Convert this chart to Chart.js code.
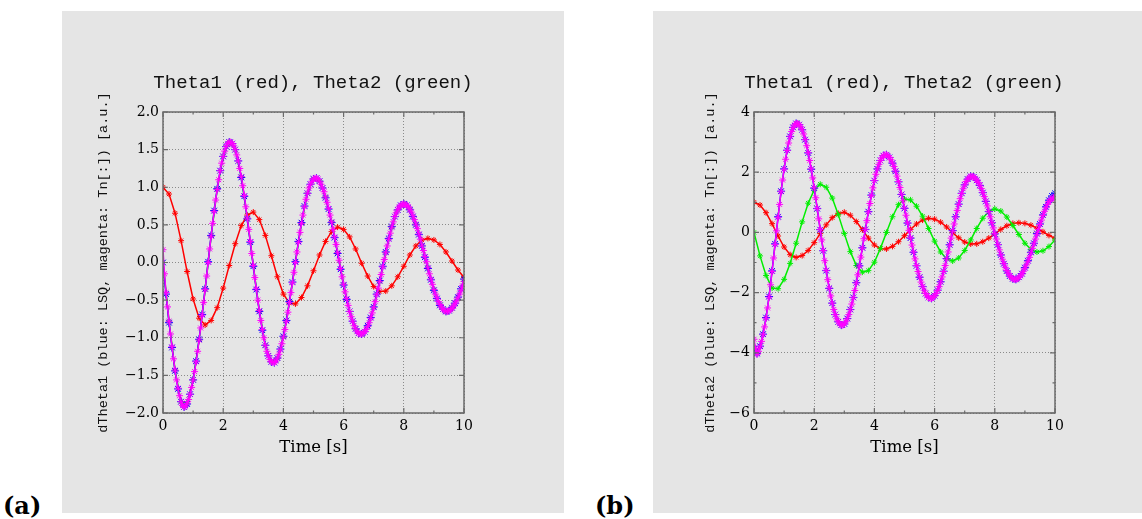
<!DOCTYPE html>
<html>
<head>
<meta charset="utf-8">
<title>Theta1 / Theta2</title>
<script src="https://cdn.jsdelivr.net/npm/chart.js@4.4.0/dist/chart.umd.min.js"></script>
<style>
  html, body { margin: 0; padding: 0; background: #fff; overflow: hidden; }
  body { width: 1142px; height: 519px; position: relative; }
  canvas.panel { position: absolute; top: 11px; background: #e5e5e5; }
  #chartA { left: 62px; }
  #chartB { left: 653px; }
  .tag { position: absolute; top: 494px; font: bold 24px "DejaVu Serif"; line-height: 24px; color: #000; }
</style>
</head>
<body>
<canvas id="chartA" class="panel" width="502" height="502"></canvas>
<canvas id="chartB" class="panel" width="502" height="502"></canvas>
<div class="tag" style="left:3px">(a)</div>
<div class="tag" style="left:595px">(b)</div>
<script>
'use strict';

// ── Data ──────────────────────────────────────────────────────────────────────

// sample grids [s]
var tDense  = Array.from({ length: 201 }, function (_, i) { return i / 20; });
var tFine   = Array.from({ length: 101 }, function (_, i) { return i / 10; });
var tCoarse = Array.from({ length: 51 },  function (_, i) { return i / 5; });

// Theta1 (red), every 0.2 s
var theta1 = [1.0, 0.91, 0.655, 0.29, -0.12, -0.485, -0.74, -0.83, -0.77, -0.60,
  -0.34, -0.04, 0.25, 0.49, 0.63, 0.67, 0.57, 0.36, 0.09, -0.19,
  -0.42, -0.54, -0.55, -0.465, -0.31, -0.11, 0.10, 0.28, 0.41, 0.47,
  0.44, 0.34, 0.18, -0.01, -0.18, -0.32, -0.385, -0.38, -0.31, -0.19,
  -0.05, 0.10, 0.22, 0.30, 0.32, 0.30, 0.24, 0.14, 0.02, -0.10, -0.20];

// Theta2 (green), every 0.2 s
var theta2 = [0.0, -0.78, -1.43, -1.85, -1.87, -1.56, -1.03, -0.36, 0.35, 0.97,
  1.41, 1.60, 1.50, 1.14, 0.59, -0.04, -0.64, -1.10, -1.32, -1.27,
  -0.99, -0.53, 0.00, 0.52, 0.92, 1.11, 1.08, 0.87, 0.54, 0.13,
  -0.29, -0.65, -0.88, -0.95, -0.85, -0.60, -0.25, 0.13, 0.47, 0.70,
  0.78, 0.71, 0.51, 0.23, -0.07, -0.36, -0.56, -0.65, -0.61, -0.47, -0.25];

// dTheta1 Tn[:] (magenta), every 0.05 s
var dTheta1Tn = [
  0.17, -0.15, -0.40, -0.59, -0.78, -0.95, -1.12, -1.28, -1.43, -1.56, -1.67, -1.77, -1.85, -1.90, -1.92, -1.91, -1.87, -1.82, -1.75, -1.66,
  -1.56, -1.45, -1.32, -1.18, -1.03, -0.87, -0.70, -0.53, -0.36, -0.18, 0.00, 0.18, 0.35, 0.52, 0.68, 0.83, 0.97, 1.10, 1.22, 1.32,
  1.41, 1.48, 1.54, 1.58, 1.60, 1.60, 1.58, 1.55, 1.50, 1.43, 1.35, 1.25, 1.14, 1.02, 0.89, 0.74, 0.59, 0.44, 0.28, 0.12,
  -0.04, -0.20, -0.35, -0.50, -0.64, -0.77, -0.89, -1.00, -1.10, -1.18, -1.24, -1.29, -1.32, -1.33, -1.33, -1.31, -1.27, -1.22, -1.16, -1.08,
  -0.99, -0.89, -0.78, -0.66, -0.53, -0.40, -0.27, -0.13, 0.00, 0.14, 0.27, 0.40, 0.52, 0.63, 0.74, 0.84, 0.92, 0.99, 1.04, 1.08,
  1.11, 1.12, 1.12, 1.11, 1.08, 1.04, 0.99, 0.94, 0.87, 0.80, 0.72, 0.63, 0.54, 0.44, 0.34, 0.24, 0.13, 0.03, -0.08, -0.19,
  -0.29, -0.39, -0.48, -0.57, -0.65, -0.72, -0.78, -0.84, -0.88, -0.92, -0.94, -0.95, -0.95, -0.94, -0.92, -0.89, -0.85, -0.80, -0.74, -0.67,
  -0.60, -0.52, -0.43, -0.34, -0.25, -0.16, -0.06, 0.04, 0.13, 0.22, 0.31, 0.39, 0.47, 0.54, 0.61, 0.66, 0.70, 0.74, 0.76, 0.77,
  0.78, 0.77, 0.76, 0.74, 0.71, 0.67, 0.62, 0.57, 0.51, 0.45, 0.38, 0.31, 0.23, 0.16, 0.08, 0.01, -0.07, -0.15, -0.22, -0.29,
  -0.36, -0.42, -0.47, -0.52, -0.56, -0.59, -0.62, -0.64, -0.65, -0.65, -0.64, -0.63, -0.61, -0.58, -0.55, -0.51, -0.47, -0.42, -0.37, -0.31,
  -0.25];

// dTheta1 LSQ (blue), every 0.1 s
var dTheta1Lsq = [0.00, -0.42, -0.80, -1.13, -1.44, -1.68, -1.85, -1.92, -1.88, -1.75,
  -1.56, -1.31, -1.02, -0.69, -0.35, 0.01, 0.36, 0.69, 0.98, 1.22,
  1.41, 1.54, 1.60, 1.58, 1.50, 1.35, 1.13, 0.88, 0.58, 0.27,
  -0.05, -0.36, -0.65, -0.90, -1.10, -1.24, -1.32, -1.33, -1.27, -1.15,
  -0.98, -0.77, -0.52, -0.26, 0.01, 0.28, 0.53, 0.75, 0.92, 1.04,
  1.11, 1.12, 1.08, 0.99, 0.86, 0.71, 0.53, 0.33, 0.12, -0.09,
  -0.30, -0.49, -0.65, -0.78, -0.88, -0.94, -0.95, -0.92, -0.84, -0.73,
  -0.59, -0.42, -0.24, -0.05, 0.14, 0.32, 0.48, 0.61, 0.70, 0.76,
  0.78, 0.76, 0.70, 0.61, 0.50, 0.37, 0.22, 0.07, -0.08, -0.23,
  -0.37, -0.48, -0.57, -0.62, -0.65, -0.64, -0.60, -0.54, -0.46, -0.35, -0.22];

// dTheta2 Tn[:] (magenta), every 0.05 s
var dTheta2Tn = [
  -3.55, -3.85, -4.05, -3.95, -3.80, -3.62, -3.40, -3.14, -2.85, -2.51, -2.15, -1.74, -1.30, -0.85, -0.40, 0.05, 0.50, 0.93, 1.35, 1.74,
  2.10, 2.43, 2.72, 2.97, 3.18, 3.35, 3.48, 3.57, 3.62, 3.62, 3.58, 3.51, 3.41, 3.27, 3.09, 2.88, 2.65, 2.39, 2.11, 1.81,
  1.48, 1.15, 0.80, 0.45, 0.10, -0.25, -0.60, -0.94, -1.26, -1.57, -1.85, -2.11, -2.35, -2.56, -2.73, -2.87, -2.97, -3.04, -3.08, -3.08,
  -3.04, -2.97, -2.87, -2.73, -2.57, -2.38, -2.17, -1.93, -1.68, -1.41, -1.12, -0.82, -0.52, -0.21, 0.09, 0.39, 0.68, 0.96, 1.23, 1.48,
  1.72, 1.93, 2.11, 2.26, 2.39, 2.48, 2.55, 2.58, 2.58, 2.55, 2.49, 2.41, 2.31, 2.19, 2.04, 1.87, 1.69, 1.49, 1.27, 1.05,
  0.81, 0.57, 0.32, 0.07, -0.18, -0.42, -0.65, -0.88, -1.10, -1.30, -1.48, -1.65, -1.79, -1.92, -2.03, -2.11, -2.16, -2.19, -2.19, -2.16,
  -2.11, -2.03, -1.93, -1.80, -1.65, -1.48, -1.30, -1.10, -0.88, -0.65, -0.42, -0.19, 0.05, 0.28, 0.51, 0.73, 0.93, 1.12, 1.29, 1.45,
  1.58, 1.69, 1.77, 1.83, 1.86, 1.86, 1.84, 1.80, 1.74, 1.66, 1.57, 1.46, 1.33, 1.19, 1.04, 0.88, 0.70, 0.52, 0.33, 0.15,
  -0.04, -0.22, -0.40, -0.58, -0.74, -0.89, -1.03, -1.16, -1.27, -1.36, -1.44, -1.50, -1.54, -1.56, -1.56, -1.54, -1.50, -1.45, -1.38, -1.29,
  -1.19, -1.08, -0.96, -0.83, -0.68, -0.53, -0.38, -0.22, -0.06, 0.10, 0.26, 0.41, 0.56, 0.70, 0.82, 0.93, 1.02, 1.08, 1.12, 1.15,
  1.18];

// dTheta2 LSQ (blue), every 0.1 s
var dTheta2Lsq = [-3.88, -4.02, -3.78, -3.38, -2.83, -2.13, -1.28, -0.38, 0.52, 1.37,
  2.11, 2.73, 3.19, 3.49, 3.62, 3.58, 3.41, 3.08, 2.64, 2.10,
  1.47, 0.79, 0.09, -0.61, -1.27, -1.86, -2.35, -2.73, -2.97, -3.08,
  -3.04, -2.86, -2.56, -2.16, -1.67, -1.11, -0.51, 0.10, 0.69, 1.24,
  1.72, 2.11, 2.39, 2.55, 2.58, 2.49, 2.30, 2.03, 1.68, 1.26,
  0.80, 0.31, -0.19, -0.66, -1.11, -1.49, -1.80, -2.03, -2.16, -2.19,
  -2.10, -1.92, -1.64, -1.29, -0.87, -0.41, 0.06, 0.52, 0.94, 1.30,
  1.58, 1.77, 1.86, 1.84, 1.73, 1.56, 1.32, 1.03, 0.69, 0.32,
  -0.05, -0.41, -0.75, -1.04, -1.28, -1.45, -1.54, -1.56, -1.49, -1.37,
  -1.17, -0.94, -0.66, -0.36, -0.04, 0.28, 0.58, 0.85, 1.07, 1.21, 1.30];

var titleText = 'Theta1 (red), Theta2 (green)';
var xTitle    = 'Time [s]';
var yTitleA   = 'dTheta1 (blue: LSQ, magenta: Tn[:]) [a.u.]';
var yTitleB   = 'dTheta2 (blue: LSQ, magenta: Tn[:]) [a.u.]';

// ── Helpers ───────────────────────────────────────────────────────────────────

var MONO  = '"Liberation Mono", monospace';
var SERIF = '"DejaVu Serif", serif';

function minus(s) { return String(s).replace('-', '\u2212'); }

function series(label, xs, ys, color, radius) {
  return {
    label: label,
    data: xs.map(function (t, i) { return { x: t, y: ys[i] }; }),
    borderColor: color,
    backgroundColor: color,
    borderWidth: 1.5,
    pointStyle: 'star',
    pointRadius: radius,
    pointBorderWidth: 1,
    pointBorderColor: color,
    tension: 0,
  };
}

// frame around the plot with inward ticks on all four sides
var framePlugin = {
  id: 'frame',
  afterDraw: function (chart) {
    var ctx = chart.ctx, a = chart.chartArea;
    var sx = chart.scales.x, sy = chart.scales.y;
    ctx.save();
    ctx.strokeStyle = '#6a6a6a';
    ctx.lineWidth = 1.2;
    ctx.beginPath();
    sx.ticks.forEach(function (t) {
      var p = sx.getPixelForValue(t.value), len = t.label === '' ? 2.5 : 5;
      ctx.moveTo(p, a.bottom); ctx.lineTo(p, a.bottom - len);
      ctx.moveTo(p, a.top);    ctx.lineTo(p, a.top + len);
    });
    sy.ticks.forEach(function (t) {
      var p = sy.getPixelForValue(t.value), len = t.label === '' ? 2.5 : 5;
      ctx.moveTo(a.left, p);  ctx.lineTo(a.left + len, p);
      ctx.moveTo(a.right, p); ctx.lineTo(a.right - len, p);
    });
    ctx.stroke();
    ctx.lineWidth = 1.5;
    ctx.strokeRect(a.left, a.top, a.right - a.left, a.bottom - a.top);
    ctx.restore();
  },
};

function gridColor(c) {
  return c.tick && c.tick.label !== '' ? '#8a8a8a' : 'rgba(0,0,0,0)';
}

function makeChart(canvas, datasets, yMin, yMax, yStep, yLabel, yTitle, yTitlePad) {
  return new Chart(canvas, {
    type: 'line',
    data: { datasets: datasets },
    plugins: [framePlugin],
    options: {
      responsive: false,
      animation: false,
      events: [],
      layout: { padding: 0 },
      plugins: {
        legend: { display: false },
        tooltip: { enabled: false },
        title: {
          display: true,
          text: titleText,
          color: '#111',
          font: { family: MONO, size: 19, weight: 'normal', lineHeight: 1.2 },
          padding: { top: 60.6, bottom: 17.6 },
        },
      },
      scales: {
        x: {
          type: 'linear',
          min: 0, max: 10,
          afterFit: function (s) { s.height = 100; },
          border: { display: false, dash: [1, 2] },
          grid: { color: gridColor, lineWidth: 1, drawTicks: false },
          ticks: {
            stepSize: 1, autoSkip: false, maxRotation: 0, padding: 5,
            color: '#000',
            font: { family: SERIF, size: 14 },
            callback: function (v) { return v % 2 === 0 ? String(v) : ''; },
          },
          title: {
            display: true, text: xTitle, color: '#000',
            font: { family: SERIF, size: 16.5, lineHeight: 1.2 },
            padding: { top: 0, bottom: 55 },
          },
        },
        y: {
          type: 'linear',
          min: yMin, max: yMax,
          afterFit: function (s) { s.width = 101; },
          border: { display: false, dash: [1, 2] },
          grid: { color: gridColor, lineWidth: 1, drawTicks: false },
          ticks: {
            stepSize: yStep, autoSkip: false, padding: 4,
            color: '#000',
            font: { family: SERIF, size: 14 },
            callback: yLabel,
          },
          title: {
            display: true, text: yTitle, color: '#111',
            font: { family: MONO, size: 13.5, lineHeight: 1.2 },
            padding: { top: yTitlePad, bottom: 0 },
          },
        },
        // empty right-hand box, keeps the title centred over the plot
        spacer: {
          type: 'linear', position: 'right', min: 0, max: 1,
          afterFit: function (s) { s.width = 100; },
          grid: { display: false },
          border: { display: false },
          ticks: { display: false },
        },
      },
    },
  });
}

// ── Panels ────────────────────────────────────────────────────────────────────

makeChart(document.getElementById('chartA'), [
  series('Tn',     tDense,  dTheta1Tn,  '#ff00ff', 3.5),
  series('LSQ',    tFine,   dTheta1Lsq, '#0000ff', 4),
  series('Theta2', tCoarse, theta2,     '#00ee00', 3),
  series('Theta1', tCoarse, theta1,     '#ff0000', 3),
], -2, 2, 0.5, function (v) { return minus(v.toFixed(1)); }, yTitleA, 32.9);

makeChart(document.getElementById('chartB'), [
  series('Tn',     tDense,  dTheta2Tn,  '#ff00ff', 3.5),
  series('LSQ',    tFine,   dTheta2Lsq, '#0000ff', 4),
  series('Theta2', tCoarse, theta2,     '#00ee00', 3),
  series('Theta1', tCoarse, theta1,     '#ff0000', 3),
], -6, 4, 1, function (v) { return v % 2 === 0 ? minus(v) : ''; }, yTitleB, 49.4);
</script>
</body>
</html>
